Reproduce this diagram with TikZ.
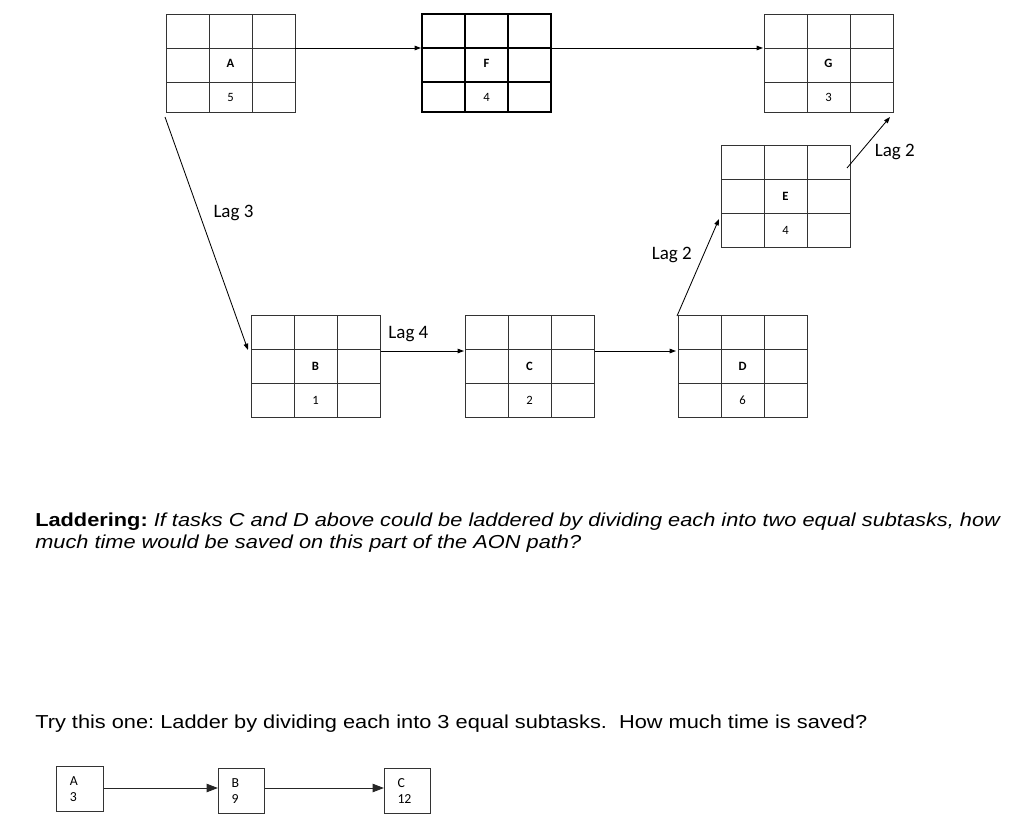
\documentclass[tikz,border=0pt]{standalone}
\usepackage{fontspec}
\setmainfont{Carlito}
\newfontfamily\arialfont[FakeStretch=1.16]{Liberation Sans}
\usetikzlibrary{arrows.meta,calc}

\tikzset{
  aon/.style={draw=black!80, line width=0.6pt, minimum width=129*0.025cm, inner sep=0pt, outer sep=0pt,
    font=\fontsize{9}{10}\selectfont\bfseries},
  gridline/.style={draw=black!80, line width=0.6pt},
  dur/.style={inner sep=0pt, font=\fontsize{9}{10}\selectfont},
  link/.style={line width=0.6pt, -{Triangle[length=4.5pt,width=3.2pt]}},
  biglink/.style={line width=0.6pt, draw=black!85, -{Triangle[length=8pt,width=6pt]}},
  lag/.style={font=\fontsize{13.5}{15}\selectfont, inner sep=1pt},
  smallbox/.style={draw=black!80, line width=0.6pt, minimum height=45*0.025cm, text width=0.5cm,
    inner xsep=0.33cm, inner ysep=0pt, align=left, font=\fontsize{9.8}{11.8}\selectfont},
  question/.style={font=\arialfont\fontsize{13.35}{15.6}\selectfont\frenchspacing, inner sep=0pt, align=left},
}

% name, left, top, height, letter, duration, extra style
\newcommand{\aonnode}[7]{%
  \node[aon, minimum height=#4*0.025cm, #7] (#1) at ({#2+64.5}, {#3+#4/2}) {#5};
  \draw[gridline, #7] ($(#1.north west)+(43,0)$) -- ++(0,#4)
                      ($(#1.north west)+(86,0)$) -- ++(0,#4)
                      ($(#1.north west)+(0,34)$) -- ++(129,0)
                      ($(#1.north west)+(0,68)$) -- ++(129,0);
  \node[dur] (#1-d) at ({#2+64.5}, {#3+(68+#4)/2}) {#6};
}

\begin{document}
\begin{tikzpicture}[x=0.025cm, y=-0.025cm]
  \useasboundingbox (0,0) rectangle (1024,835);

  % AON network
  \aonnode{A}{166}{14}{98}{A}{5}{}
  \aonnode{F}{422}{14}{98}{F}{4}{draw=black, line width=1.1pt}
  \aonnode{G}{764}{14}{98}{G}{3}{}
  \aonnode{E}{721}{145}{102}{E}{4}{}
  \aonnode{B}{251}{315}{102}{B}{1}{}
  \aonnode{C}{465}{315}{102}{C}{2}{}
  \aonnode{D}{678}{315}{102}{D}{6}{}

  \draw[link] ($(A.north east)+(0,34)$) -- ($(F.north west)+(-1,34)$);
  \draw[link] ($(F.north east)+(0,34)$) -- ($(G.north west)+(-1,34)$);
  \draw[link] ($(A.south west)+(-1,5)$) -- node[lag, pos=0.41, right=9pt] {Lag 3} ($(B.north west)+(-3,35)$);
  \draw[link] ($(B.north east)+(1,36)$) -- node[lag, pos=0.33, above=5pt] {Lag 4} ($(C.north west)+(-1,36)$);
  \draw[link] ($(C.north east)+(1,36)$) -- ($(D.north west)+(-2,36)$);
  \draw[link] ($(D.north west)+(-1,1)$) -- node[lag, pos=0.63, left=7pt] {Lag 2} ($(E.south west)+(-2,-28)$);
  \draw[link] ($(E.north east)+(-3,23)$) -- node[lag, pos=0.31, right=9pt] {Lag 2} ($(G.south east)+(-3,5)$);

  % questions
  \node[question, anchor=north west] (q1) at (35,512.5)
    {\textbf{Laddering:} \textit{If tasks C and D above could be laddered by dividing each into two equal subtasks, how}\\
     \textit{much time would be saved on this part of the AON path?}};
  \node[question, anchor=base west] (q2) at (35,728)
    {Try this one: Ladder by dividing each into 3 equal subtasks.\ \ How much time is saved?};

  % small example
  \node[smallbox] (sa) at (80,789) {A\\3};
  \node[smallbox] (sb) at (241.5,791) {B\\9};
  \node[smallbox] (sc) at (407.5,791) {C\\12};
  \draw[biglink] (sa.east |- 0,788) -- (sb.west |- 0,788);
  \draw[biglink] (sb.east |- 0,788) -- (sc.west |- 0,788);
\end{tikzpicture}
\end{document}
